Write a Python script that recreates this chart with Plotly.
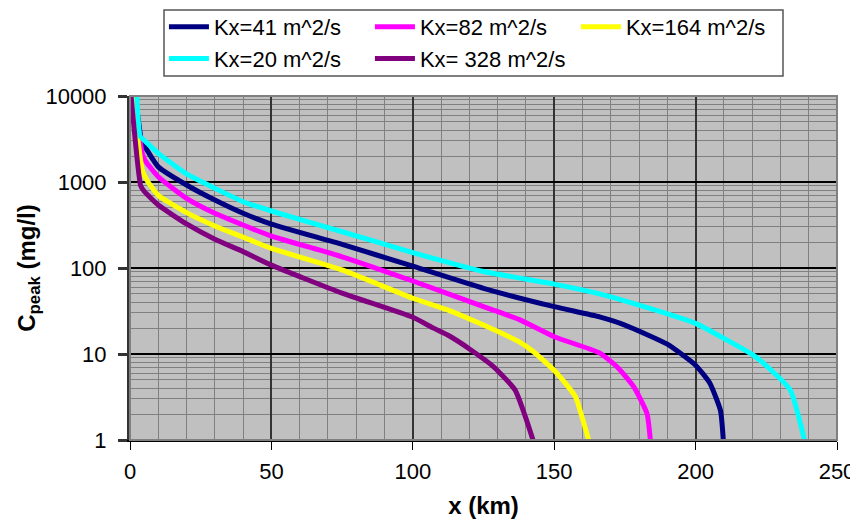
import plotly.graph_objects as go

# ---- data ----
names = ["Kx=41 m^2/s", "Kx=82 m^2/s", "Kx=164 m^2/s", "Kx=20 m^2/s", "Kx= 328 m^2/s"]
colors = ["#000080", "#FF00FF", "#FFFF00", "#00FFFF", "#800080"]

kx41_x = [1.9, 4.2, 5.5, 10, 20, 30, 40, 50, 75, 100, 125, 150, 166, 175, 190, 200, 205, 208.8, 209.8]
kx41_y = [10000, 2900, 2500, 1500, 923, 617, 433, 324, 188, 105, 58, 35.5, 27, 21.7, 13, 7.4, 4.6, 2.2, 1]

kx82_x = [1.4, 4.4, 5.5, 10, 20, 30, 40, 50, 75, 100, 125, 137.5, 150, 166, 172.2, 178.1, 182.8, 184]
kx82_y = [10000, 2100, 1750, 1150, 646, 433, 316, 235, 135, 70.6, 35.5, 25.3, 15.9, 10.3, 7.1, 4.17, 2.04, 1]

kx164_x = [1.0, 4.4, 6, 10, 20, 30, 40, 50, 75, 100, 112.5, 125, 137.5, 142.7, 151, 157.5, 159.8, 162.2]
kx164_y = [10000, 1350, 1050, 700, 440, 308, 228, 169, 95, 44.5, 32.4, 21.7, 13.9, 10.6, 5.96, 3.19, 1.87, 1]

kx20_x = [2.4, 3.6, 5.3, 10, 20, 30, 40, 50, 75, 100, 125, 150, 166, 180, 200, 210, 220, 225, 233.5, 238.5]
kx20_y = [10000, 3400, 3000, 2150, 1240, 845, 590, 460, 264, 151, 91, 65, 50, 37, 22.7, 15.2, 9.9, 7.3, 3.8, 1]

kx328_x = [0.4, 3.8, 5, 10, 20, 30, 40, 50, 75, 100, 107.3, 112.5, 120.3, 128.6, 136.2, 139.8, 142.5]
kx328_y = [10000, 900, 780, 540, 325, 216, 155, 108, 51, 26.7, 20, 16.5, 11.3, 7.1, 3.8, 1.87, 1]

x_ticks = [0, 50, 100, 150, 200, 250]
y_ticks = [1, 10, 100, 1000, 10000]
y_minor = [m * 10 ** k for k in range(0, 4) for m in range(2, 10)]

series = [(kx41_x, kx41_y), (kx82_x, kx82_y), (kx164_x, kx164_y), (kx20_x, kx20_y), (kx328_x, kx328_y)]

FONT = "Liberation Sans, Arial, sans-serif"

fig = go.Figure()
for (xs, ys), name, c in zip(series, names, colors):
    fig.add_trace(go.Scatter(x=xs, y=ys, name=name, mode="lines",
                             line=dict(color=c, width=5, shape="spline", smoothing=0.5)))

# the page places the figure 8px from the top-left corner of the window
fig.update_layout(
    width=850, height=515,
    margin=dict(l=122, r=21, t=88, b=83, autoexpand=False),
    paper_bgcolor="white",
    plot_bgcolor="#C0C0C0",
    font=dict(family=FONT, size=22, color="black"),
    showlegend=True,
    legend=dict(orientation="h", x=0.048, xanchor="left", y=1.2616, yanchor="top",
                borderwidth=0, bgcolor="rgba(0,0,0,0)",
                entrywidth=151, entrywidthmode="pixels", itemwidth=40,
                font=dict(family=FONT, size=22, color="black"),
                tracegroupgap=0),
    xaxis=dict(range=[0, 250], tickvals=x_ticks, ticktext=[str(v) for v in x_ticks],
               automargin=False,
               showgrid=True, gridcolor="#333333", gridwidth=2,
               minor=dict(dtick=10, showgrid=True, gridcolor="#808080", gridwidth=1, ticks=""),
               showline=True, linecolor="black", linewidth=2,
               ticks="outside", ticklen=8, tickcolor="black", tickwidth=1,
               ticklabelstandoff=3,
               zeroline=False, tickfont=dict(size=22),
               title=dict(text="<b>x (km)</b>", font=dict(size=24), standoff=14)),
    yaxis=dict(type="log", range=[0, 4], tickvals=y_ticks, ticktext=[str(v) for v in y_ticks],
               automargin=False,
               showgrid=True, gridcolor="black", gridwidth=2,
               minor=dict(tickmode="array", tickvals=y_minor, showgrid=True,
                          gridcolor="#808080", gridwidth=1, ticks=""),
               showline=True, linecolor="#333333", linewidth=3,
               ticks="outside", ticklen=9, tickcolor="#333333", tickwidth=3,
               ticklabelstandoff=7,
               zeroline=False, tickfont=dict(size=22),
               title=dict(text="<b>C<sub>peak</sub> (mg/l)</b>", font=dict(size=24), standoff=4)),
)

# plot-area border
fig.add_shape(type="rect", xref="paper", yref="paper", x0=0, y0=0, x1=1, y1=1,
              line=dict(color="#808080", width=2), layer="above")
# legend frame
fig.add_shape(type="rect", xref="paper", yref="paper",
              x0=(164 - 130) / 707, x1=(783 - 130) / 707,
              y0=1 + (96 - 76) / 344, y1=1 + (96 - 10) / 344,
              line=dict(color="#555555", width=1.5), fillcolor="white", layer="below")

fig.write_html("out.html")
